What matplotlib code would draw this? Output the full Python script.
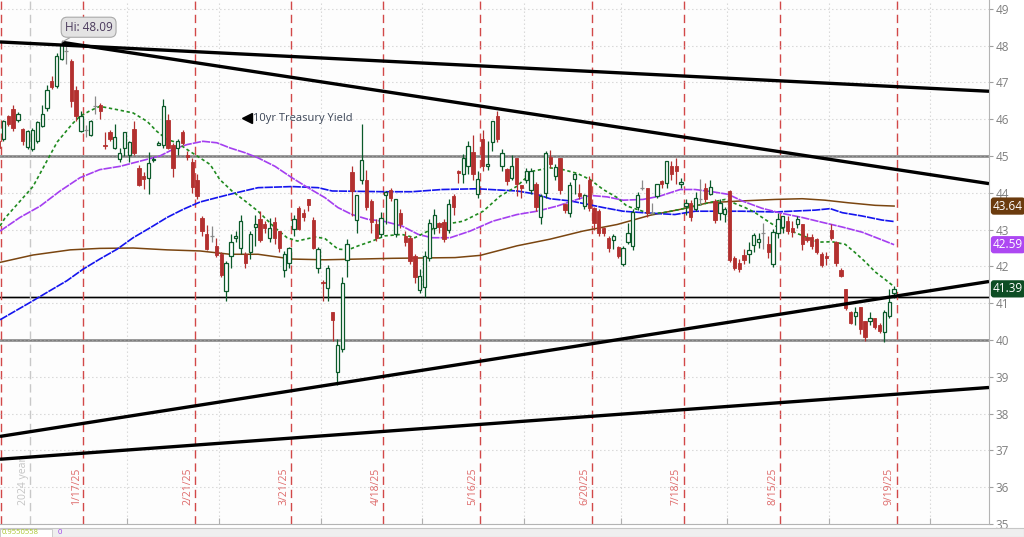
import numpy as np
import matplotlib.pyplot as plt
from matplotlib.transforms import blended_transform_factory
from matplotlib.patches import Rectangle

plt.rcParams['font.family'] = ['Open Sans', 'DejaVu Sans']

# daily candles, 12/19/24 .. 9/18/25 (10yr Treasury yield x10)
opens = [45.40, 45.47, 46.08, 46.29, 45.99, 45.74, 45.24, 45.18, 45.40, 45.81,
         46.31, 47.03, 46.89, 47.63, 47.86, 47.59, 46.80, 45.67, 45.72, 45.56,
         46.35, 46.38, 45.31, 45.65, 45.22, 44.93, 45.22, 45.02, 45.74, 44.68,
         44.47, 44.41, 44.88, 45.31, 45.31, 45.99, 45.29, 45.22, 45.65, 45.04,
         44.84, 44.36, 43.31, 42.89, 42.83, 42.56, 42.35, 41.34, 42.29, 42.76,
         42.49, 42.33, 42.38, 43.08, 43.28, 43.14, 42.78, 43.21, 42.96, 41.90,
         42.08, 43.01, 43.60, 43.46, 43.84, 43.25, 41.97, 41.59, 41.40, 40.75,
         39.12, 39.76, 42.17, 44.56, 43.26, 44.36, 44.36, 43.79, 43.14, 42.89,
         43.94, 44.07, 42.89, 43.44, 42.83, 42.78, 42.29, 41.36, 41.45, 42.24,
         43.05, 43.19, 43.21, 42.98, 43.91, 44.59, 44.50, 44.72, 45.10, 43.96,
         45.47, 44.72, 45.38, 46.10, 44.72, 44.65, 44.41, 44.95, 44.20, 44.34,
         44.07, 44.25, 43.35, 44.00, 44.98, 44.47, 44.95, 43.69, 43.44, 44.38,
         44.00, 43.64, 44.36, 43.60, 43.50, 43.05, 42.78, 42.72, 42.53, 42.06,
         42.66, 42.56, 43.62, 44.14, 44.14, 43.46, 43.91, 44.32, 44.27, 44.74,
         44.72, 44.23, 43.64, 43.71, 43.57, 43.82, 44.14, 43.98, 43.79, 43.44,
         43.43, 44.05, 42.24, 42.10, 42.30, 42.35, 42.57, 42.67, 42.92, 42.60,
         42.06, 42.92, 43.08, 43.24, 43.05, 43.14, 43.14, 42.81, 42.81, 42.74,
         42.33, 42.27, 42.98, 42.66, 41.91, 41.38, 40.75, 40.64, 40.89, 40.51,
         40.52, 40.59, 40.41, 40.23, 40.64, 41.29]
highs = [45.45, 45.99, 46.12, 46.38, 46.19, 45.77, 45.72, 45.76, 45.96, 46.39,
         46.93, 47.17, 47.80, 48.09, 47.98, 47.64, 46.89, 46.22, 45.85, 45.99,
         46.63, 46.44, 45.65, 45.71, 45.87, 45.22, 45.65, 45.42, 45.96, 44.75,
         44.56, 45.11, 44.97, 45.42, 46.56, 46.14, 45.36, 45.45, 45.71, 45.13,
         44.95, 44.50, 43.37, 43.13, 43.10, 42.78, 42.40, 42.15, 42.87, 42.96,
         43.41, 42.38, 42.96, 43.39, 43.50, 43.23, 43.32, 43.34, 42.96, 42.42,
         42.54, 43.39, 43.63, 43.55, 43.84, 43.34, 42.54, 41.63, 42.03, 40.75,
         40.02, 41.72, 42.74, 44.73, 43.93, 45.87, 44.63, 43.84, 43.30, 43.48,
         44.05, 44.14, 43.84, 43.55, 42.96, 42.83, 42.33, 41.92, 42.42, 43.30,
         43.55, 43.21, 43.28, 43.84, 43.97, 44.63, 45.05, 45.40, 45.56, 44.59,
         45.72, 45.40, 45.94, 46.21, 45.20, 44.68, 45.02, 44.95, 44.20, 44.68,
         44.68, 44.29, 43.96, 45.14, 45.16, 44.77, 44.95, 43.71, 44.29, 44.54,
         44.25, 43.96, 44.45, 43.62, 43.55, 43.08, 42.83, 42.87, 42.56, 42.56,
         43.17, 43.55, 44.02, 44.34, 44.14, 43.73, 44.25, 44.36, 44.86, 44.86,
         44.95, 44.41, 43.84, 43.80, 44.03, 44.38, 44.27, 44.34, 43.84, 43.84,
         43.62, 44.07, 42.29, 42.20, 42.47, 42.65, 42.90, 42.90, 43.18, 42.83,
         43.01, 43.46, 43.37, 43.37, 43.24, 43.37, 43.14, 42.92, 42.87, 42.78,
         42.38, 42.38, 43.14, 42.69, 41.97, 41.38, 40.80, 40.90, 40.90, 40.51,
         40.75, 40.61, 40.45, 40.81, 41.38, 41.47]
lows = [45.15, 45.42, 45.81, 45.67, 45.93, 45.31, 45.20, 45.13, 45.35, 45.78,
        46.22, 46.81, 46.85, 47.61, 47.50, 46.33, 45.95, 45.65, 45.51, 45.54,
        46.14, 46.00, 45.20, 45.42, 45.18, 44.84, 45.01, 44.84, 45.04, 44.18,
        44.11, 43.97, 44.84, 45.29, 45.22, 45.18, 44.43, 45.04, 45.31, 44.88,
        44.00, 43.84, 42.83, 42.44, 42.67, 42.26, 41.72, 41.07, 41.97, 42.65,
        42.35, 41.97, 42.20, 42.56, 42.65, 42.92, 42.65, 42.60, 42.38, 41.72,
        41.97, 42.83, 42.99, 43.23, 43.50, 42.47, 41.83, 41.07, 41.07, 39.97,
        38.79, 39.67, 41.72, 43.38, 42.92, 44.23, 43.53, 42.92, 42.69, 42.80,
        43.16, 43.77, 42.79, 43.05, 42.56, 42.06, 41.54, 41.27, 41.18, 42.15,
        42.87, 42.92, 42.65, 42.92, 43.39, 44.27, 44.27, 44.50, 44.36, 43.86,
        44.59, 44.63, 45.14, 45.38, 44.59, 44.20, 44.36, 43.91, 43.86, 44.27,
        43.96, 43.50, 43.14, 43.86, 44.68, 44.36, 43.96, 43.44, 43.35, 43.96,
        43.82, 43.55, 43.50, 42.98, 42.83, 42.83, 42.38, 42.47, 42.24, 42.01,
        42.60, 42.45, 43.53, 44.07, 43.35, 43.42, 43.86, 44.14, 44.14, 44.36,
        44.23, 44.14, 43.40, 43.24, 43.50, 43.66, 43.75, 43.95, 43.19, 43.26,
        43.22, 42.13, 41.90, 41.85, 42.06, 42.10, 42.38, 42.49, 42.47, 42.22,
        41.99, 42.76, 42.92, 42.87, 42.80, 43.05, 42.44, 42.67, 42.47, 42.33,
        41.99, 42.05, 42.72, 42.01, 41.71, 40.81, 40.44, 40.40, 40.15, 39.97,
        40.40, 40.30, 40.20, 39.95, 40.61, 41.15]
closes = [45.22, 45.96, 45.87, 45.76, 46.14, 45.40, 45.67, 45.72, 45.93, 46.14,
          46.80, 46.87, 47.73, 48.02, 47.86, 46.49, 46.08, 46.08, 45.72, 45.96,
          46.35, 46.22, 45.27, 45.47, 45.53, 45.09, 45.65, 45.38, 45.07, 44.21,
          44.38, 44.81, 44.93, 45.35, 46.35, 45.22, 44.68, 45.40, 45.36, 44.97,
          44.16, 43.91, 42.96, 42.47, 42.83, 42.31, 41.77, 42.08, 42.65, 42.83,
          43.23, 42.10, 42.87, 43.16, 42.72, 43.04, 43.05, 42.76, 42.51, 42.33,
          42.51, 43.30, 43.03, 43.34, 43.66, 42.51, 42.47, 41.56, 41.95, 40.54,
          39.87, 41.54, 42.60, 44.05, 43.93, 44.90, 43.61, 43.21, 42.78, 43.32,
          44.03, 43.87, 43.84, 43.14, 42.65, 42.15, 41.72, 41.74, 42.29, 43.19,
          43.39, 43.07, 42.74, 43.70, 43.62, 44.54, 44.95, 45.27, 44.50, 44.38,
          44.74, 44.79, 45.94, 45.47, 45.07, 44.32, 44.74, 44.23, 44.14, 44.59,
          44.59, 43.62, 43.91, 45.07, 44.77, 44.70, 44.07, 43.53, 44.20, 44.50,
          43.91, 43.93, 43.60, 43.17, 42.92, 42.92, 42.51, 42.83, 42.29, 42.49,
          42.92, 43.48, 43.93, 44.14, 43.46, 43.46, 44.23, 44.25, 44.86, 44.50,
          44.59, 44.30, 43.71, 43.34, 43.87, 43.82, 43.82, 44.16, 43.26, 43.73,
          43.57, 42.18, 41.97, 41.92, 42.18, 42.44, 42.85, 42.74, 42.92, 42.38,
          42.94, 43.28, 43.37, 42.96, 42.94, 43.28, 42.60, 42.72, 42.56, 42.38,
          42.03, 42.24, 42.76, 42.10, 41.74, 40.86, 40.45, 40.77, 40.30, 40.09,
          40.61, 40.34, 40.25, 40.75, 41.04, 41.38]

# moving averages, read as knots (bar index, value)
ma20_x = [0.3, 1.3, 7.1, 12.1, 15.2, 16.8, 18.9, 20.9, 24.5, 27.8, 30.7, 32.7, 34.8, 36.9,
          38.9, 41.6, 43.7, 45.7, 48.2, 50.9, 53.6, 57.1, 59.6, 61.7, 65.4, 67.4, 70.1,
          72.2, 74.3, 77.2, 79.8, 83.3, 86.0, 88.7, 91.6, 94.3, 96.0, 100.1, 103.6, 107.1,
          110.4, 113.9, 116.6, 119.5, 122.2, 124.9, 127.8, 129.8, 131.9, 134.6, 137.3,
          140.8, 143.9, 146.6, 150.1, 152.1, 154.2, 156.3, 158.3, 160.4, 162.5, 164.5,
          167.2, 169.3, 172.2, 174.9, 176.9, 179.0, 181.1, 183.1, 185.0]
ma20_y = [43.10, 43.31, 44.17, 45.38, 45.87, 46.08, 46.23, 46.35, 46.26, 46.17, 45.94, 45.67,
          45.45, 45.36, 45.18, 44.95, 44.77, 44.36, 44.05, 43.78, 43.50, 43.05, 42.78, 42.69,
          42.80, 42.76, 42.47, 42.45, 42.56, 42.69, 42.83, 42.87, 42.78, 42.96, 43.14, 43.19,
          43.23, 43.50, 43.91, 44.18, 44.59, 44.68, 44.63, 44.53, 44.36, 44.09, 43.87, 43.64,
          43.55, 43.43, 43.46, 43.55, 43.64, 43.73, 43.82, 43.71, 43.60, 43.46, 43.28, 43.10,
          43.01, 42.92, 42.78, 42.66, 42.67, 42.60, 42.38, 42.13, 41.85, 41.65, 41.45]
ma50_x = [0.3, 4.4, 8.6, 12.7, 16.8, 20.9, 25.1, 29.2, 33.3, 36.0, 38.9, 42.2, 45.1, 47.8,
          50.9, 53.6, 57.1, 60.6, 63.9, 67.4, 70.1, 73.0, 76.3, 79.8, 83.3, 86.7, 89.5, 93.3,
          97.4, 102.1, 107.1, 111.2, 115.4, 119.5, 122.2, 125.7, 129.0, 133.1, 136.6, 140.8,
          143.9, 147.4, 150.7, 153.6, 157.7, 161.9, 166.0, 170.1, 174.3, 178.4, 182.5, 185.0]
ma50_y = [42.96, 43.33, 43.64, 44.05, 44.41, 44.63, 44.72, 44.86, 45.00, 45.18, 45.31, 45.40,
          45.36, 45.22, 45.09, 44.95, 44.72, 44.41, 44.14, 43.87, 43.60, 43.41, 43.28, 43.22,
          43.10, 42.87, 42.78, 42.78, 42.96, 43.23, 43.41, 43.50, 43.64, 43.82, 43.93, 43.89,
          43.80, 43.82, 43.91, 44.09, 44.09, 44.03, 43.96, 43.78, 43.58, 43.44, 43.33, 43.20,
          43.07, 42.93, 42.72, 42.59]
ma100_x = [0.3, 6.5, 10.6, 14.1, 17.4, 20.9, 24.5, 27.8, 31.3, 34.8, 38.1, 41.6, 45.1, 48.4,
           53.6, 60.6, 66.0, 68.9, 79.8, 85.4, 91.6, 98.8, 107.1, 111.2, 113.9, 118.1, 121.6,
           124.9, 129.0, 133.1, 139.7, 143.9, 153.6, 160.4, 168.7, 171.8, 174.3, 178.4, 182.5,
           185.0]
ma100_y = [40.55, 41.02, 41.34, 41.61, 41.92, 42.20, 42.47, 42.78, 43.05, 43.33, 43.55, 43.75,
           43.87, 43.98, 44.14, 44.17, 44.14, 44.05, 44.03, 44.03, 44.09, 44.11, 44.05, 43.96,
           43.84, 43.78, 43.69, 43.60, 43.50, 43.46, 43.41, 43.50, 43.50, 43.48, 43.53, 43.57,
           43.46, 43.37, 43.26, 43.22]
ma200_x = [0.3, 7.1, 14.8, 20.9, 27.8, 34.8, 41.6, 47.8, 53.6, 60.6, 67.4, 81.3, 94.3, 99.5,
           107.1, 113.9, 120.7, 127.8, 134.6, 140.8, 146.6, 153.6, 160.4, 166.0, 170.7, 175.5,
           181.1, 185.0]
ma200_y = [42.11, 42.31, 42.45, 42.49, 42.50, 42.45, 42.42, 42.33, 42.33, 42.20, 42.18, 42.22,
           42.24, 42.30, 42.56, 42.74, 42.96, 43.14, 43.39, 43.55, 43.73, 43.78, 43.82, 43.84,
           43.80, 43.73, 43.66, 43.64]

# drawn trend lines (start bar, end bar, start value, end value)
trend_lines = [(0.29, 204.6, 48.10, 46.76),
               (13.1, 204.6, 48.09, 44.25),
               (0.29, 204.6, 37.38, 41.59),
               (0.29, 204.6, 36.76, 38.71)]
levels_gray = [45.0, 40.0]
level_black = 41.18

expiry_pos = [0.5, 17.5, 40.5, 60.5, 79.5, 99.5, 122.5, 141.5, 161.5, 185.5]
expiry_labels = ['', '1/17/25', '2/21/25', '3/21/25', '4/18/25', '5/16/25',
                 '6/20/25', '7/18/25', '8/15/25', '9/19/25']
month_pos = [26.5, 45.5, 66.5, 87.5, 108.5, 128.5, 150.5, 171.5, 192.5]
year_pos = 6.5

last_tags = [(43.64, '43.64', '#6b3b0e'), (42.59, '42.59', '#ad48f2'), (41.39, '41.39', '#0d4d24')]

GREEN = '#0b5a2a'
RED = '#b3302f'
GRAY = '#8a8a8a'

fig = plt.figure(figsize=(10.24, 5.37), dpi=100)
fig.patch.set_facecolor('white')
ax = fig.add_axes([0, 13 / 537, 989 / 1024, 524 / 537])
ax.set_facecolor('#fdfdfd')
ax.set_xlim(0.29, 204.6)
ax.set_ylim(35.04, 49.24)

# grid
ax.set_yticks(range(35, 50))
ax.yaxis.tick_right()
ax.grid(axis='y', linestyle=(0, (0.7, 2.9)), color='#b8b8b8', lw=0.8, zorder=0)
for m in month_pos:
    ax.axvline(m, linestyle=(0, (0.7, 2.9)), color='#b8b8b8', lw=0.8, zorder=0)
ax.set_xticks(month_pos)
ax.set_xticklabels([])
ax.tick_params(axis='x', direction='in', length=4, color='#b0b0b0')
ax.tick_params(axis='y', direction='out', length=3, color='#a0a0a0', labelcolor='#7f7f7f',
               labelsize=8.5, pad=2)
for s in ['top', 'left']:
    ax.spines[s].set_visible(False)
for s in ['right', 'bottom']:
    ax.spines[s].set_color('#b4b4b4')

# horizontal levels
for lv in levels_gray:
    ax.axhline(lv, color='#7d7d7d', lw=1.8, zorder=1)
ax.axhline(level_black, color='#9a9a9a', lw=1.8, zorder=1)
ax.axhline(level_black, color='black', lw=0.8, zorder=1.1)

# expiry lines and labels
bt = blended_transform_factory(ax.transData, ax.transAxes)
for p, lab in zip(expiry_pos, expiry_labels):
    ax.axvline(p, color='#d24848', lw=1.0, linestyle=(0, (6, 3.5)), zorder=1.5)
    if lab:
        ax.text(p - 0.35, 0.037, lab, transform=bt, rotation=90, ha='right', va='bottom',
                fontsize=7.5, color='#de6a6a', zorder=6)
ax.axvline(year_pos, color='#c8c8c8', lw=1.0, linestyle=(0, (6, 3.5)), zorder=1.5)
ax.text(year_pos - 0.3, 0.037, '2024 year', transform=bt, rotation=90, ha='right', va='bottom',
        fontsize=7.5, color='#c4c4c4', zorder=1.6)

# moving averages
ax.plot(ma200_x, ma200_y, color='#7a4510', lw=1.1, zorder=2)
ax.plot(ma100_x, ma100_y, color='#1414ee', lw=1.2, linestyle=(0, (5, 0.6)), zorder=2)
ax.plot(ma50_x, ma50_y, color='#a43ff0', lw=1.2, linestyle=(0, (5, 0.6)), zorder=2)
ax.plot(ma20_x, ma20_y, color='#1f8a1f', lw=1.2, linestyle=(0, (2.0, 1.6)), zorder=2)

# candles
o = np.array(opens)
h = np.array(highs)
l = np.array(lows)
c = np.array(closes)
x = np.arange(len(o))
up = c > o
dn = c < o
fl = c == o
ax.vlines(x[up], l[up], h[up], color=GREEN, lw=0.9, zorder=3)
ax.bar(x[up], c[up] - o[up], 0.68, bottom=o[up], facecolor='white', edgecolor=GREEN,
       lw=0.9, zorder=4)
ax.vlines(x[dn], l[dn], h[dn], color=RED, lw=0.9, zorder=3)
ax.bar(x[dn], o[dn] - c[dn], 0.68, bottom=c[dn], facecolor=RED, edgecolor=RED,
       lw=0.6, zorder=4)
ax.vlines(x[fl], l[fl], h[fl], color=GRAY, lw=0.9, zorder=3)
ax.hlines(o[fl], x[fl] - 0.4, x[fl] + 0.4, color=GRAY, lw=0.9, zorder=3)

# trend lines
for x0, x1, y0, y1 in trend_lines:
    ax.plot([x0, x1], [y0, y1], color='black', lw=2.4, solid_capstyle='butt', zorder=5)

# annotations
ax.annotate('Hi: 48.09', xy=(13.0, 48.09), xytext=(18.6, 48.50), fontsize=8.5,
            color='#4a3a5c', ha='center', va='center', zorder=7,
            bbox=dict(boxstyle='round,pad=0.3,rounding_size=0.5', fc='#e3e3e3', ec='#a9a9a9', lw=0.8),
            arrowprops=dict(arrowstyle='-', color='#a0a0a0', lw=0.8, shrinkA=0, shrinkB=0))
ax.plot([51.4], [46.02], marker='<', markersize=6.5, color='black', zorder=6)
ax.text(52.6, 46.02, '10yr Treasury Yield', fontsize=8, color='#3c4657', ha='left',
        va='center', zorder=6)

# last value tags
rt = blended_transform_factory(ax.transAxes, ax.transData)
for v, txt, col in last_tags:
    ax.text(1.004, v, txt, transform=rt, ha='left', va='center', fontsize=8.5, color='white',
            zorder=8, clip_on=False,
            bbox=dict(boxstyle='round,pad=0.18,rounding_size=0.25', fc=col, ec='none'))

# bottom status strip
fig.patches.append(Rectangle((0, 0), 1, 9.5 / 537, transform=fig.transFigure,
                             facecolor='#efefef', edgecolor='#c6c6c6', lw=0.8, zorder=10))
fig.patches.append(Rectangle((0, 0), 52 / 1024, 8.5 / 537, transform=fig.transFigure,
                             facecolor='white', edgecolor='#c6c6c6', lw=0.6, zorder=11))
fig.text(2 / 1024, 1 / 537, '0.9550558', fontsize=5.5, color='#a9c52e', va='bottom',
         ha='left', zorder=12)
fig.text(58 / 1024, 1 / 537, '0', fontsize=5.5, color='#9b40e8', va='bottom', ha='left',
         zorder=12)

fig.savefig('out.png', dpi=100, facecolor=fig.get_facecolor())
